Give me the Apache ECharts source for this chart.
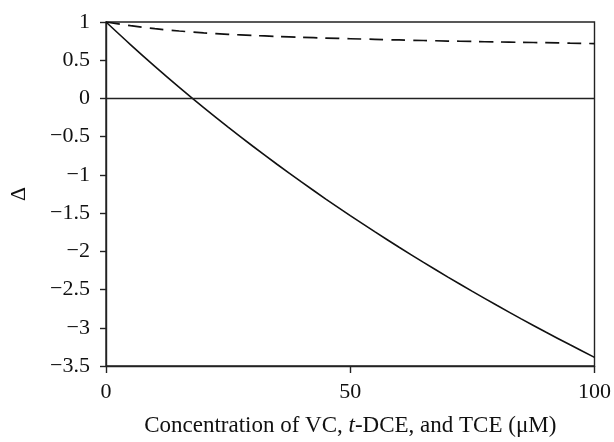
<!DOCTYPE html>
<html>
<head>
<meta charset="utf-8">
<script src="https://cdn.jsdelivr.net/npm/echarts@6/dist/echarts.min.js"></script>
<style>
html,body{margin:0;padding:0;background:#fff;}
#chart{width:614px;height:442px;}
</style>
</head>
<body>
<div id="chart"></div>
<script>
// concentration (uM)
var conc = [0, 5, 10, 15, 20, 25, 30, 35, 40, 45, 50, 55, 60, 65, 70, 75, 80, 85, 90, 95, 100];
// solid curve
var deltaSolid = [1, 0.705, 0.42, 0.145, -0.12, -0.375, -0.622, -0.861, -1.092, -1.316, -1.533, -1.743, -1.947, -2.145, -2.337, -2.524, -2.706, -2.883, -3.055, -3.223, -3.387];
// dashed curve
var deltaDashed = [1, 0.952, 0.913, 0.882, 0.858, 0.839, 0.824, 0.811, 0.800, 0.790, 0.781, 0.773, 0.765, 0.758, 0.751, 0.745, 0.739, 0.734, 0.729, 0.723, 0.718];

function pairs(xs, ys)
{
	var out = [];
	for (var i = 0; i < xs.length; i++)
	{
		out.push([xs[i], ys[i]]);
	}
	return out;
}

var fontFam = '"Liberation Serif", "DejaVu Serif", serif';

var chart = echarts.init(document.getElementById('chart'));
var option = {
	animation: false,
	backgroundColor: '#fff',
	grid: {
		left: 98,
		right: 19,
		top: 22,
		bottom: 69,
		show: true,
		borderColor: '#222',
		borderWidth: 1.4,
		containLabel: false
	},
	xAxis: {
		type: 'value',
		min: 0,
		max: 100,
		interval: 50,
		name: '{n|Concentration of VC, }{i|t}{n|-DCE, and TCE (\u03bcM)}',
		nameLocation: 'middle',
		nameGap: 48,
		nameTextStyle: {
			rich: {
				n: {fontFamily: fontFam, fontSize: 23, color: '#111'},
				i: {fontFamily: fontFam, fontSize: 23, color: '#111', fontStyle: 'italic'}
			}
		},
		axisLine: {show: true, onZero: false, lineStyle: {color: '#222', width: 1.4}},
		axisTick: {show: true, inside: false, length: 7, lineStyle: {color: '#222', width: 1.4}},
		axisLabel: {
			margin: 15,
			fontFamily: fontFam,
			fontSize: 22,
			color: '#111'
		},
		splitLine: {show: false}
	},
	yAxis: {
		type: 'value',
		min: -3.5,
		max: 1,
		interval: 0.5,
		name: '\u0394',
		nameLocation: 'middle',
		nameRotate: 90,
		nameGap: 76,
		nameTextStyle: {fontFamily: fontFam, fontSize: 22, color: '#111'},
		axisLine: {show: true, lineStyle: {color: '#222', width: 1.4}},
		axisTick: {show: true, inside: false, length: 6, lineStyle: {color: '#222', width: 1.4}},
		axisLabel: {
			margin: 16,
			fontFamily: fontFam,
			fontSize: 22,
			color: '#111',
			formatter: function (v) {
				return String(v).replace('-', '\u2212');
			}
		},
		splitLine: {show: false}
	},
	series: [
		{
			type: 'line',
			name: 'solid',
			data: pairs(conc, deltaSolid),
			smooth: 0.3,
			showSymbol: false,
			lineStyle: {color: '#111', width: 1.6, type: 'solid'},
			markLine: {
				silent: true,
				symbol: 'none',
				label: {show: false},
				lineStyle: {color: '#222', width: 1.4, type: 'solid'},
				data: [{yAxis: 0}]
			}
		},
		{
			type: 'line',
			name: 'dashed',
			data: pairs(conc, deltaDashed),
			smooth: 0.3,
			showSymbol: false,
			lineStyle: {color: '#111', width: 1.7, type: [14, 8]}
		}
	]
};
chart.setOption(option);
</script>
</body>
</html>
